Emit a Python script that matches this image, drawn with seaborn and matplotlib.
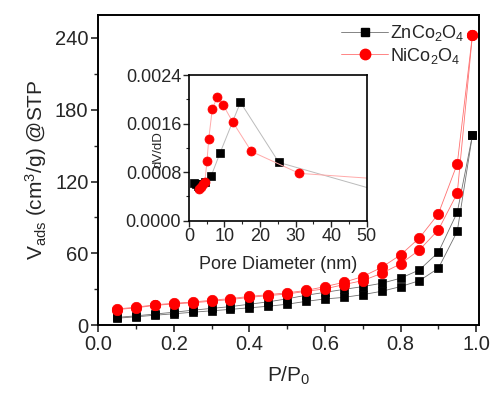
import numpy as np
import pandas as pd
import matplotlib
matplotlib.use("Agg")
import matplotlib.pyplot as plt
from matplotlib.lines import Line2D
from matplotlib.ticker import MultipleLocator
import seaborn as sns

# ---------------- data ----------------
pressure = [0.05, 0.10, 0.15, 0.20, 0.25, 0.30, 0.35, 0.40, 0.45, 0.50,
            0.55, 0.60, 0.65, 0.70, 0.75, 0.80, 0.85, 0.90, 0.95, 0.99]
zn_ads = [5.8, 7.0, 8.3, 9.5, 10.8, 12.0, 13.2, 14.5, 15.8, 17.5,
          19.9, 21.9, 23.2, 25.5, 28.3, 32.2, 37.2, 47.5, 78.4, 158.5]
zn_des = [6.5, 7.8, 9.3, 10.8, 12.5, 14.0, 15.5, 17.5, 19.5, 22.0,
          25.0, 27.4, 29.9, 32.2, 35.0, 39.2, 46.2, 60.9, 94.3, 158.5]
ni_ads = [13.0, 14.5, 16.5, 17.8, 18.7, 20.0, 21.4, 23.2, 24.7, 26.0,
          28.3, 30.3, 33.9, 37.2, 43.3, 51.2, 62.9, 79.6, 110.2, 242.0]
ni_des = [13.5, 15.0, 17.0, 18.3, 19.3, 20.8, 22.2, 24.0, 25.5, 27.0,
          29.0, 32.2, 35.8, 40.6, 48.3, 58.7, 72.9, 93.0, 134.8, 242.0]

zn_pore = [1.5, 2.0, 2.5, 3.0, 3.5, 4.5, 6.3, 8.8, 14.5, 25.3, 60.0]
zn_dvdd = [0.00062, 0.00060, 0.00057, 0.00055, 0.00060, 0.00063,
           0.00074, 0.00112, 0.00195, 0.00096, 0.00038]
ni_pore = [3.0, 3.5, 4.0, 4.5, 5.1, 5.6, 6.6, 7.95, 9.6, 12.4, 17.6, 31.0, 70.0]
ni_dvdd = [0.00052, 0.00055, 0.00060, 0.00064, 0.00098, 0.00135, 0.00184,
           0.00203, 0.00191, 0.00162, 0.00114, 0.00078, 0.00062]

labels = ["ZnCo$_2$O$_4$", "NiCo$_2$O$_4$"]

# ---------------- style ----------------
sns.set_style("white")
plt.rcParams["font.family"] = ["Liberation Sans", "DejaVu Sans"]
plt.rcParams["mathtext.fontset"] = "custom"
plt.rcParams["mathtext.rm"] = "Liberation Sans"
plt.rcParams["mathtext.it"] = "Liberation Sans:italic"

fig = plt.figure(figsize=(4.93, 3.98), dpi=100)
ax = fig.add_axes([0.199, 0.183, 0.773, 0.779])

iso = pd.DataFrame({
    "p": pressure * 4,
    "v": zn_ads + zn_des + ni_ads + ni_des,
    "branch": ["zn_ads"] * 20 + ["zn_des"] * 20 + ["ni_ads"] * 20 + ["ni_des"] * 20,
})

styles = {
    "zn": dict(color="#707070", marker="s", mfc="black", mec="black", ms=6.2),
    "ni": dict(color="#ff7070", marker="o", mfc="red", mec="red", ms=7.5),
}
for key in ["zn_ads", "zn_des", "ni_ads", "ni_des"]:
    st = styles[key[:2]]
    d = iso[iso["branch"] == key]
    sns.lineplot(data=d, x="p", y="v", ax=ax, sort=False, estimator=None,
                 color=st["color"], lw=0.6, marker=st["marker"],
                 markerfacecolor=st["mfc"], markeredgecolor=st["mec"],
                 markersize=st["ms"], markeredgewidth=0.5)

ax.set_xlim(0, 1.008)
ax.set_ylim(0, 259)
ax.xaxis.set_major_locator(MultipleLocator(0.2))
ax.xaxis.set_minor_locator(MultipleLocator(0.1))
ax.yaxis.set_major_locator(MultipleLocator(60))
ax.yaxis.set_minor_locator(MultipleLocator(30))
ax.set_xticks([0, 0.2, 0.4, 0.6, 0.8, 1.0])
ax.set_xticklabels(["0.0", "0.2", "0.4", "0.6", "0.8", "1.0"])
ax.tick_params(which="major", direction="out", length=5, width=1.2,
               labelsize=14.5, bottom=True, left=True, pad=2)
ax.tick_params(which="minor", direction="out", length=3, width=1.0,
               bottom=True, left=True)
for s in ax.spines.values():
    s.set_linewidth(1.4)
    s.set_color("black")
ax.set_xlabel("P/P$_0$", fontsize=15, labelpad=8)
ax.set_ylabel("V$_{\\rm ads}$ (cm$^3$/g) @STP", fontsize=15, labelpad=4)

handles = [
    Line2D([], [], color="#707070", lw=0.6, marker="s", mfc="black", mec="black", ms=6.2),
    Line2D([], [], color="#ff7070", lw=0.6, marker="o", mfc="red", mec="red", ms=7.5),
]
ax.legend(handles, labels, loc="upper right", bbox_to_anchor=(0.99, 1.01),
          frameon=False, fontsize=13, handlelength=2.6, handletextpad=0.1,
          labelspacing=0.15, borderaxespad=0.2)

# ---------------- inset ----------------
ax_in = fig.add_axes([0.383, 0.4455, 0.361, 0.366])
ax_in.set_facecolor("white")
psd = pd.DataFrame({
    "d": zn_pore + ni_pore,
    "y": zn_dvdd + ni_dvdd,
    "s": ["zn"] * len(zn_pore) + ["ni"] * len(ni_pore),
})
ins = {
    "zn": dict(color="#bbbbbb", marker="s", ms=5.5),
    "ni": dict(color="#ffaaaa", marker="o", ms=6.5),
}
for key, mc in [("zn", "black"), ("ni", "red")]:
    d = psd[psd["s"] == key]
    sns.lineplot(data=d, x="d", y="y", ax=ax_in, sort=False, estimator=None,
                 color=ins[key]["color"], lw=0.7, marker=ins[key]["marker"],
                 markerfacecolor=mc, markeredgecolor=mc,
                 markersize=ins[key]["ms"], markeredgewidth=0.5)
ax_in.set_xlim(0, 50)
ax_in.set_ylim(0, 0.0024)
ax_in.xaxis.set_major_locator(MultipleLocator(10))
ax_in.xaxis.set_minor_locator(MultipleLocator(5))
ax_in.yaxis.set_major_locator(MultipleLocator(0.0008))
ax_in.yaxis.set_minor_locator(MultipleLocator(0.0004))
ax_in.set_yticks([0, 0.0008, 0.0016, 0.0024])
ax_in.set_yticklabels(["0.0000", "0.0008", "0.0016", "0.0024"])
ax_in.tick_params(which="major", direction="out", length=4, width=1.0,
                  labelsize=13, bottom=True, left=True, pad=1.5)
ax_in.tick_params(which="minor", direction="out", length=2.5, width=0.8,
                  bottom=True, left=True)
for s in ax_in.spines.values():
    s.set_linewidth(1.2)
    s.set_color("black")
ax_in.set_xlabel("Pore Diameter (nm)", fontsize=13, labelpad=8)
ax_in.set_ylabel("dV/dD", fontsize=9.5, va="center", ha="center")
ax_in.yaxis.set_label_coords(-0.17, 0.49)

fig.savefig("out.png", dpi=100)
